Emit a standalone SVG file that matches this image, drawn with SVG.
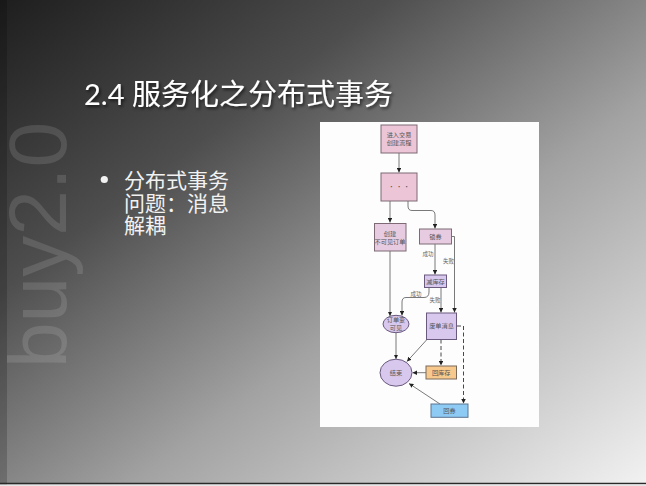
<svg xmlns="http://www.w3.org/2000/svg" width="646" height="486" viewBox="0 0 646 486">
<defs>
<linearGradient id="bg" x1="0" y1="0" x2="1" y2="1">
<stop offset="0" stop-color="#1e1e1e"/>
<stop offset="0.3" stop-color="#4e4e4e"/>
<stop offset="0.6" stop-color="#a2a2a2"/>
<stop offset="1" stop-color="#f2f2f2"/>
</linearGradient>
<filter id="sh" x="-5%" y="-20%" width="110%" height="150%">
<feDropShadow dx="1.5" dy="2" stdDeviation="1.5" flood-color="#000" flood-opacity="0.6"/>
</filter>
<marker id="ah" viewBox="0 0 6 6" refX="6" refY="3" markerWidth="4.5" markerHeight="4.5" orient="auto" markerUnits="userSpaceOnUse">
<path d="M0,0 L6,3 L0,6 z" fill="#222"/>
</marker>
<style>
.title{font-family:"Lato","Noto Sans CJK SC",sans-serif;font-size:29px;fill:#fff}
.bul{font-family:"Noto Sans CJK SC",sans-serif;font-size:21px;fill:#f2f2f2}
.nt{font-family:"Noto Sans CJK SC",sans-serif;font-size:6.2px;fill:#555;text-anchor:middle}
.lbl{font-family:"Noto Sans CJK SC",sans-serif;font-size:5.5px;fill:#666;text-anchor:middle}
.pink{fill:#ecc5d6;stroke:#7d6a74;stroke-width:1}
.pink2{fill:#e7cbe0;stroke:#7d6a74;stroke-width:1}
.purp{fill:#d8c8ee;stroke:#6a5a7e;stroke-width:1}
.orng{fill:#f8c98c;stroke:#7a6a5a;stroke-width:1}
.blue{fill:#8ecbf4;stroke:#5a7590;stroke-width:1}
.ln{fill:none;stroke:#6a6a6a;stroke-width:0.9;marker-end:url(#ah)}
.dash{stroke-dasharray:4,2.5;stroke:#333}
</style>
</defs>
<rect x="0" y="0" width="646" height="486" fill="url(#bg)"/>
<rect x="0" y="0" width="7" height="486" fill="#000" opacity="0.18"/>
<line x1="0" y1="483.5" x2="646" y2="483.5" stroke="#2a2a2a" stroke-width="1.5"/>
<rect x="0" y="484.5" width="646" height="2" fill="#e6e6e6"/>
<text transform="translate(66,368) rotate(-90)" font-family="Liberation Sans, sans-serif" font-size="82" fill="#fff" fill-opacity="0.12">buy2.0</text>
<text class="title" x="84" y="105" filter="url(#sh)">2.4 服务化之分布式事务</text>
<circle cx="104.3" cy="179.5" r="3.6" fill="#f2f2f2"/>
<text class="bul" x="124" y="188">分布式事务</text>
<text class="bul" x="124" y="211">问题：消息</text>
<text class="bul" x="124" y="233">解耦</text>
<rect x="320" y="122" width="219" height="305" fill="#fdfdfd"/>
<g id="connectors">
<path class="ln" d="M399,153 V172.5"/>
<path class="ln" d="M390,201 V222.5"/>
<path class="ln" d="M408,201 V206 Q408,210.5 412,210.5 H431 Q435,210.5 435,215 V228.5"/>
<path class="ln" d="M435,244 V274.5"/>
<text class="lbl" x="428" y="256">成功</text>
<path class="ln" d="M452,236.5 H454.5 V312.5"/>
<text class="lbl" x="448.5" y="263">失败</text>
<path class="ln" d="M429,288 V292 Q429,297.5 424,297.5 H406 Q402,297.5 402,302 V315.5"/>
<text class="lbl" x="416" y="296">成功</text>
<path class="ln" d="M441,288 V312.5"/>
<text class="lbl" x="435" y="302">失败</text>
<path class="ln" d="M390,251 V316"/>
<path class="ln" d="M396,333 V359"/>
<path class="ln" d="M426.5,340 L407,361.5"/>
<path class="ln dash" d="M441,339.5 V365.5"/>
<path class="ln" d="M426,372.7 H412.5"/>
<path class="ln dash" d="M457,326 H463.5 V403.5"/>
<path class="ln" d="M440,404 L409,383.5"/>
</g>
<g id="n-enter"><rect class="pink" x="381" y="125" width="36" height="28"/><text class="nt" x="399" y="137">进入交易</text><text class="nt" x="399" y="144.5">创建流程</text></g>
<g id="n-dots"><rect class="pink" x="381" y="173" width="36" height="28"/><text class="nt" x="399" y="188.5">· · ·</text></g>
<g id="n-create"><rect class="pink2" x="374.5" y="223.5" width="31.5" height="27.5"/><text class="nt" x="390" y="236">创建</text><text class="nt" x="390" y="243.5">不可见订单</text></g>
<g id="n-lock"><rect class="pink2" x="419.5" y="229" width="32" height="15"/><text class="nt" x="435.5" y="238.8">锁券</text></g>
<g id="n-dec"><rect class="purp" x="424.5" y="275" width="22" height="12.5"/><text class="nt" x="435.5" y="283.5">减库存</text></g>
<g id="n-visible"><ellipse class="purp" cx="396" cy="324" rx="13" ry="8.7"/><text class="nt" x="396" y="322">订单变</text><text class="nt" x="396" y="329.5">可见</text></g>
<g id="n-cancel"><rect class="purp" x="426.5" y="313" width="30" height="26.5"/><text class="nt" x="441.5" y="328.3">废单消息</text></g>
<g id="n-end"><ellipse class="purp" cx="396" cy="372.7" rx="16" ry="13.5"/><text class="nt" x="396" y="375">结束</text></g>
<g id="n-retstock"><rect class="orng" x="426" y="366" width="30.5" height="13"/><text class="nt" x="441.2" y="374.8">回库存</text></g>
<g id="n-retcoupon"><rect class="blue" x="431" y="404" width="37" height="13.3"/><text class="nt" x="449.5" y="413">回券</text></g>
</svg>
